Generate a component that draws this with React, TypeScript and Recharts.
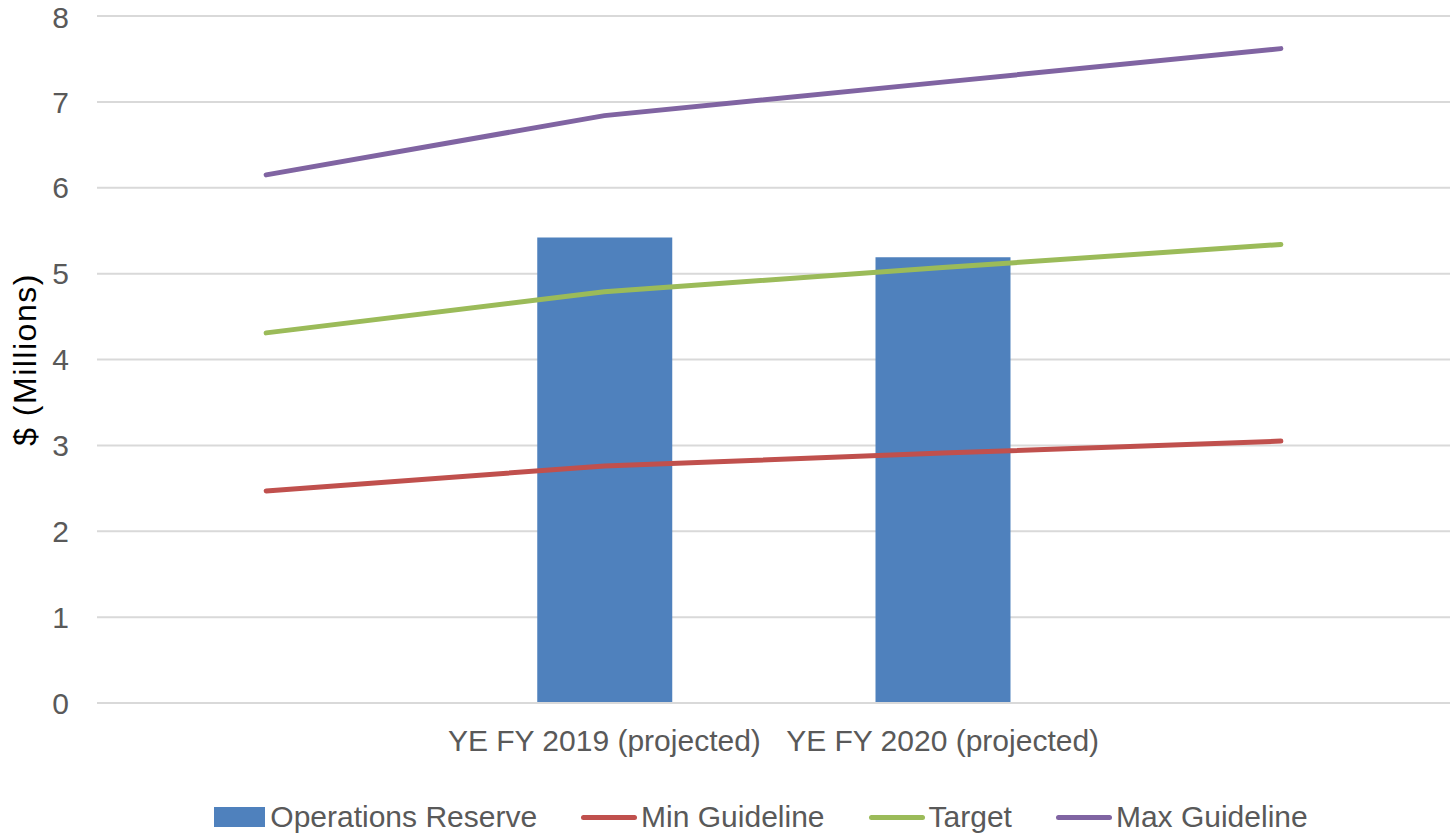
import React from 'react';
import { ComposedChart, Bar, Line, XAxis, YAxis, CartesianGrid, Legend } from 'recharts';

const categories = ['', 'YE FY 2019 (projected)', 'YE FY 2020 (projected)', ''];
const operationsReserve: (number | null)[] = [null, 5.42, 5.19, null];
const minGuideline = [2.47, 2.76, 2.91, 3.05];
const target = [4.31, 4.79, 5.07, 5.34];
const maxGuideline = [6.15, 6.84, 7.23, 7.62];
const yTicks = [0, 1, 2, 3, 4, 5, 6, 7, 8];

const data = categories.map((c, i) => ({
  key: `c${i}`,
  name: c,
  ops: operationsReserve[i],
  min: minGuideline[i],
  target: target[i],
  max: maxGuideline[i],
}));

const FONT = '"Liberation Sans", Arial, sans-serif';
const TXT = '#595959';

const legendItems = [
  { label: 'Operations Reserve', color: '#4F81BD', type: 'rect' },
  { label: 'Min Guideline', color: '#C0504D', type: 'line' },
  { label: 'Target', color: '#9BBB59', type: 'line' },
  { label: 'Max Guideline', color: '#8064A2', type: 'line' },
];

const LegendContent = () => (
  <div
    style={{
      width: 1450,
      display: 'flex',
      justifyContent: 'center',
      alignItems: 'center',
      paddingLeft: 72,
      boxSizing: 'border-box',
      fontFamily: FONT,
      fontSize: 30,
      color: TXT,
      height: 40,
    }}
  >
    {legendItems.map((it, i) => (
      <div key={i} style={{ display: 'flex', alignItems: 'center', marginLeft: i === 0 ? 0 : 44 }}>
        {it.type === 'rect' ? (
          <div style={{ width: 51, height: 20, background: it.color, marginRight: 5 }} />
        ) : (
          <div style={{ width: 56, height: 5, borderRadius: 3, background: it.color, marginRight: 4 }} />
        )}
        <span>{it.label}</span>
      </div>
    ))}
  </div>
);

const YLabel = (props: any) => {
  const vb = props.viewBox || {};
  const cy = vb.y + vb.height / 2;
  const cx = 25;
  return (
    <text
      x={cx}
      y={cy}
      transform={`rotate(-90, ${cx}, ${cy})`}
      textAnchor="middle"
      dominantBaseline="central"
      fontFamily={FONT}
      fontSize={32}
      letterSpacing={1.5}
      fill="#000"
    >
      $ (Millions)
    </text>
  );
};

export default function App() {
  return (
    <div style={{ position: 'absolute', left: 0, top: 0, width: 1450, height: 837, background: '#fff' }}>
      <ComposedChart
        width={1450}
        height={837}
        data={data}
        margin={{ top: 16, right: 0, bottom: 0, left: 0 }}
      >
        <CartesianGrid vertical={false} stroke="#d9d9d9" strokeWidth={2} />
        <XAxis
          dataKey="key"
          tickFormatter={(v: string, i: number) => categories[i] ?? ''}
          height={94}
          axisLine={{ stroke: '#d9d9d9', strokeWidth: 2 }}
          tickLine={false}
          tickSize={0}
          tickMargin={27}
          tick={{ fill: TXT, fontSize: 30, fontFamily: FONT }}
          interval={0}
        />
        <YAxis
          width={97}
          domain={[0, 8]}
          ticks={yTicks}
          axisLine={false}
          tickLine={false}
          tickSize={0}
          tickMargin={28}
          tick={{ fill: TXT, fontSize: 30, fontFamily: FONT }}
          label={<YLabel />}
        />
        <Legend verticalAlign="bottom" height={40} content={<LegendContent />} wrapperStyle={{ left: 0, width: 1450 }} />
        <Bar dataKey="ops" fill="#4F81BD" barSize={135} isAnimationActive={false} />
        <Line dataKey="min" stroke="#C0504D" strokeWidth={5} strokeLinecap="round" dot={false} activeDot={false} isAnimationActive={false} />
        <Line dataKey="target" stroke="#9BBB59" strokeWidth={5} strokeLinecap="round" dot={false} activeDot={false} isAnimationActive={false} />
        <Line dataKey="max" stroke="#8064A2" strokeWidth={5} strokeLinecap="round" dot={false} activeDot={false} isAnimationActive={false} />
      </ComposedChart>
    </div>
  );
}
